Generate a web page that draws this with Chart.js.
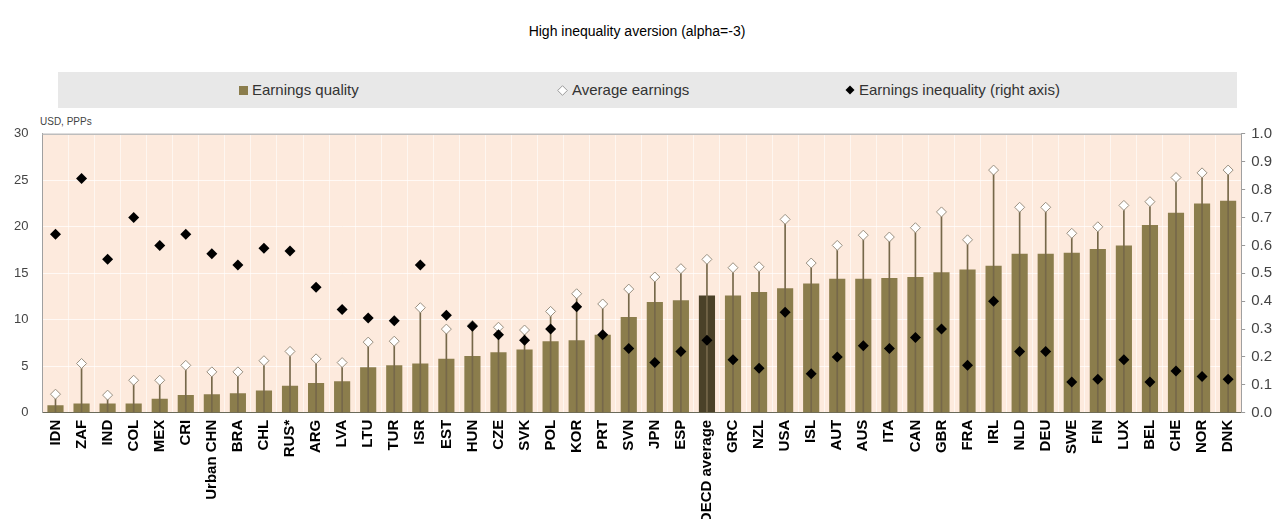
<!DOCTYPE html>
<html>
<head>
<meta charset="utf-8">
<script src="https://cdn.jsdelivr.net/npm/chart.js@4"></script>
<style>
  html, body { margin:0; padding:0; width:1274px; height:519px; overflow:hidden; background:#fff; font-family:"Liberation Sans", Arial, sans-serif; }
  #title { position:absolute; left:0; width:1274px; top:23px; text-align:center; font-size:14px; color:#000; }
  #legend { position:absolute; left:58px; top:72px; width:1179px; height:36px; background:#e8e8e8; }
  .item { position:absolute; top:0; height:36px; line-height:36px; font-size:15px; color:#333; white-space:nowrap; }
  .sym { display:inline-block; vertical-align:middle; margin-right:4px; position:relative; top:-1px; }
  #unit { position:absolute; left:40px; top:116px; font-size:10px; color:#444; }
  #wrap { position:absolute; left:0; top:112px; width:1278px; height:419px; }
</style>
</head>
<body>
<div id="title">High inequality aversion (alpha=-3)</div>
<div id="legend">
  <div class="item" style="left:181px"><span class="sym" style="width:9px;height:9px;background:#8b7d4c"></span>Earnings quality</div>
  <div class="item" style="left:499px"><svg class="sym" width="11" height="11" viewBox="0 0 11 11"><path d="M5.5 0.7 L10.3 5.5 L5.5 10.3 L0.7 5.5 Z" fill="#fff" stroke="#999" stroke-width="1"/></svg>Average earnings</div>
  <div class="item" style="left:787px"><svg class="sym" width="10" height="10" viewBox="0 0 10 10"><path d="M5 0.5 L9.5 5 L5 9.5 L0.5 5 Z" fill="#000"/></svg>Earnings inequality (right axis)</div>
</div>
<div id="unit">USD, PPPs</div>
<div id="wrap"><canvas id="c"></canvas></div>
<script>
const categories = ['IDN','ZAF','IND','COL','MEX','CRI','Urban CHN','BRA','CHL','RUS*','ARG','LVA','LTU','TUR','ISR','EST','HUN','CZE','SVK','POL','KOR','PRT','SVN','JPN','ESP','OECD average','GRC','NZL','USA','ISL','AUT','AUS','ITA','CAN','GBR','FRA','IRL','NLD','DEU','SWE','FIN','LUX','BEL','CHE','NOR','DNK'];
const earningsQuality = [0.8,1.0,1.0,1.0,1.5,1.9,2.0,2.1,2.4,2.9,3.2,3.4,4.9,5.1,5.3,5.8,6.1,6.5,6.8,7.7,7.8,8.4,10.3,11.9,12.1,12.6,12.6,13.0,13.4,13.9,14.4,14.4,14.5,14.6,15.1,15.4,15.8,17.1,17.1,17.2,17.6,18.0,20.2,21.5,22.5,22.8];
const averageEarnings = [2.0,5.3,1.9,3.5,3.5,5.1,4.4,4.4,5.6,6.6,5.8,5.4,7.6,7.7,11.3,9.0,9.4,9.2,8.9,10.9,12.8,11.7,13.3,14.6,15.5,16.5,15.6,15.7,20.8,16.1,18.0,19.1,18.9,19.9,21.6,18.6,26.1,22.1,22.1,19.3,20.0,22.3,22.7,25.3,25.8,26.1];
const earningsInequality = [0.64,0.84,0.55,0.70,0.60,0.64,0.57,0.53,0.59,0.58,0.45,0.37,0.34,0.33,0.53,0.35,0.31,0.28,0.26,0.30,0.38,0.28,0.23,0.18,0.22,0.26,0.19,0.16,0.36,0.14,0.20,0.24,0.23,0.27,0.30,0.17,0.40,0.22,0.22,0.11,0.12,0.19,0.11,0.15,0.13,0.12];
const leftTicks = [0,5,10,15,20,25,30];
const rightTicks = [0,0.1,0.2,0.3,0.4,0.5,0.6,0.7,0.8,0.9,1.0];

const barColors = categories.map(c => c === 'OECD average' ? '#4a4128' : '#8b7d4c');

const bgPlugin = {
  id: 'bg',
  beforeDraw(chart) {
    const {ctx, chartArea:a} = chart;
    ctx.save();
    ctx.fillStyle = '#fdeadd';
    ctx.fillRect(a.left, a.top, a.right - a.left, a.bottom - a.top);
    ctx.restore();
  },
  afterDraw(chart) {
    const {ctx, chartArea:a} = chart;
    ctx.save();
    ctx.strokeStyle = '#bdbdbd';
    ctx.lineWidth = 1.5;
    ctx.beginPath();
    ctx.moveTo(a.left, a.top + 0.5);
    ctx.lineTo(a.right, a.top + 0.5);
    ctx.stroke();
    ctx.restore();
  }
};

new Chart(document.getElementById('c'), {
  type: 'bar',
  data: {
    labels: categories,
    datasets: [
      {
        type: 'line', label: 'Earnings inequality (right axis)', data: earningsInequality, yAxisID: 'y2',
        showLine: false, pointStyle: 'rectRot', pointRadius: 5.5, pointBackgroundColor: '#000', pointBorderColor: '#000', pointBorderWidth: 0, order: 0
      },
      {
        type: 'line', label: 'Average earnings', data: averageEarnings, yAxisID: 'y',
        showLine: false, pointStyle: 'rectRot', pointRadius: 5, pointBackgroundColor: '#fff', pointBorderColor: '#9a9080', pointBorderWidth: 1, order: 1
      },
      {
        type: 'bar', label: 'stem', data: averageEarnings.map(v => [0, v]), yAxisID: 'y',
        backgroundColor: '#76684a', barThickness: 1, grouped: false, order: 2
      },
      {
        type: 'bar', label: 'Earnings quality', data: earningsQuality, yAxisID: 'y',
        backgroundColor: barColors, barPercentage: 0.62, categoryPercentage: 1, grouped: false, order: 3
      }
    ]
  },
  options: {
    responsive: true, maintainAspectRatio: false, animation: false,
    layout: { padding: { left: 0, top: 9, right: 0, bottom: 0 } },
    plugins: { legend: { display: false }, tooltip: { enabled: false } },
    scales: {
      x: {
        offset: true,
        grid: { display: true, offset: true, color: 'rgba(255,255,255,0.55)', drawTicks: false },
        border: { color: '#6a6a5a', width: 1 },
        ticks: { autoSkip: false, minRotation: 90, maxRotation: 90, color: '#000', padding: 7, font: { family: 'Liberation Sans, Arial', size: 15, weight: 'bold' } }
      },
      y: {
        position: 'left', min: 0, max: 30,
        afterBuildTicks(s) { s.ticks = leftTicks.map(v => ({ value: v })); },
        grid: { color: 'rgba(255,255,255,0.7)', drawTicks: false },
        border: { color: '#a0a0a0' },
        ticks: { color: '#444', padding: 14, font: { family: 'Liberation Sans, Arial', size: 13 } }
      },
      y2: {
        position: 'right', min: 0, max: 1,
        afterBuildTicks(s) { s.ticks = rightTicks.map(v => ({ value: v })); },
        grid: { drawOnChartArea: false, drawTicks: true, tickLength: 4, color: '#999' },
        border: { color: '#a0a0a0' },
        ticks: { color: '#444', padding: 6, font: { family: 'Liberation Sans, Arial', size: 15 }, callback: v => Number(v).toFixed(1) }
      }
    }
  },
  plugins: [bgPlugin]
});
</script>
</body>
</html>
